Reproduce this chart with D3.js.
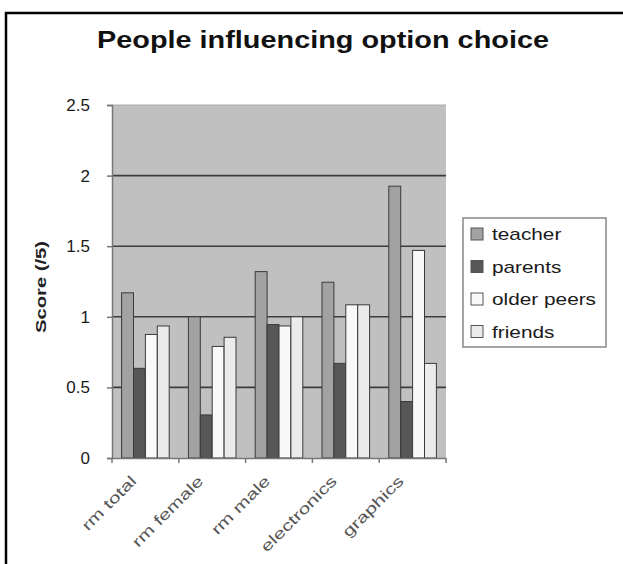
<!DOCTYPE html>
<html>
<head>
<meta charset="utf-8">
<script src="https://cdn.jsdelivr.net/npm/d3@7"></script>
<style>
  body { margin: 0; background: #fff; }
  svg { display: block; font-family: Arial, "Liberation Sans", sans-serif; }
</style>
</head>
<body>
<svg width="623" height="564"></svg>
<script>
// categorie e serie
var categories = ["rm total", "rm female", "rm male", "electronics", "graphics"];
var series = ["teacher", "parents", "older peers", "friends"];
var teacher = [1.17, 1.0, 1.32, 1.245, 1.925];
var parents = [0.635, 0.305, 0.945, 0.67, 0.40];
var olderPeers = [0.875, 0.79, 0.935, 1.085, 1.47];
var friends = [0.935, 0.855, 1.0, 1.085, 0.67];
var yTicks = [0, 0.5, 1, 1.5, 2, 2.5];
var colors = ["#a2a2a2", "#575757", "#f9f9f9", "#ebebeb"];

var svg = d3.select("svg");
var values = [teacher, parents, olderPeers, friends];

// cornice esterna (esce dalla finestra a destra e in basso)
svg.append("rect")
  .attr("x", 6).attr("y", 13)
  .attr("width", 700).attr("height", 700)
  .attr("fill", "none").attr("stroke", "#000").attr("stroke-width", 2.5);

// titolo
svg.append("text")
  .attr("x", 97).attr("y", 48)
  .attr("font-size", 23).attr("font-weight", "bold")
  .attr("fill", "#111")
  .attr("textLength", 452).attr("lengthAdjust", "spacingAndGlyphs")
  .text("People influencing option choice");

// margini area grafico (niente "top": e' riservato da window)
var pLeft = 112, pRight = 446, pTop = 105, pBottom = 458;

var y = d3.scaleLinear().domain([0, 2.5]).range([pBottom, pTop]);
var x0 = d3.scaleBand().domain(categories).range([pLeft, pRight]).padding(0);
var x1 = d3.scaleBand().domain(series)
  .range([9.6, x0.bandwidth() - 9.6]).padding(0);

// sfondo area del grafico
svg.append("rect")
  .attr("x", pLeft).attr("y", pTop)
  .attr("width", pRight - pLeft).attr("height", pBottom - pTop)
  .attr("fill", "#c0c0c0");

// griglia
svg.append("g").selectAll("line")
  .data(yTicks.filter(function (d) { return d > 0 && d < 2.5; }))
  .enter().append("line")
  .attr("x1", pLeft).attr("x2", pRight)
  .attr("y1", function (d) { return y(d); })
  .attr("y2", function (d) { return y(d); })
  .attr("stroke", "#3c3c3c").attr("stroke-width", 1.6);

svg.append("line")
  .attr("x1", pLeft).attr("x2", pRight).attr("y1", pTop).attr("y2", pTop)
  .attr("stroke", "#aaa").attr("stroke-width", 1);

// barre
var groups = svg.append("g").selectAll("g")
  .data(categories)
  .enter().append("g")
  .attr("transform", function (d) { return "translate(" + x0(d) + ",0)"; });

groups.selectAll("rect")
  .data(function (d, i) {
    return series.map(function (s, j) { return { s: s, v: values[j][i], j: j }; });
  })
  .enter().append("rect")
  .attr("x", function (d) { return x1(d.s); })
  .attr("y", function (d) { return y(d.v); })
  .attr("width", x1.bandwidth())
  .attr("height", function (d) { return pBottom - y(d.v); })
  .attr("fill", function (d) { return colors[d.j]; })
  .attr("stroke", "#3a3a3a").attr("stroke-width", 1);

// asse y
var yAxis = svg.append("g")
  .attr("transform", "translate(" + pLeft + ",0)")
  .call(d3.axisLeft(y).tickValues(yTicks).tickSize(5).tickPadding(17)
    .tickFormat(function (d) { return d; }));
yAxis.select(".domain").attr("stroke", "#777").attr("stroke-width", 1.5);
yAxis.selectAll(".tick line").attr("stroke", "#777").attr("stroke-width", 1.5);
yAxis.selectAll("text").attr("font-size", 17).attr("fill", "#1a1a1a")
  .attr("font-family", "Arial, 'Liberation Sans', sans-serif");

// asse x
var xAxis = svg.append("g")
  .attr("transform", "translate(0," + pBottom + ")")
  .call(d3.axisBottom(x0).tickSize(0).tickFormat(""));
xAxis.select(".domain").attr("stroke", "#777").attr("stroke-width", 1.5);
svg.append("g").selectAll("line")
  .data(categories.concat(["_end"]))
  .enter().append("line")
  .attr("x1", function (d) { return d === "_end" ? pRight : x0(d); })
  .attr("x2", function (d) { return d === "_end" ? pRight : x0(d); })
  .attr("y1", pBottom).attr("y2", pBottom + 5)
  .attr("stroke", "#777").attr("stroke-width", 1.5);

// etichette categorie, inclinate e un po' allargate come nell'originale
svg.append("g").selectAll("text")
  .data(categories)
  .enter().append("text")
  .attr("transform", function (d) {
    return "translate(" + (x0(d) + x0.bandwidth() / 2 - 8) + "," + (pBottom + 24) + ") rotate(-45) scale(1.4,1)";
  })
  .attr("text-anchor", "end")
  .attr("font-size", 15).attr("fill", "#555")
  .text(function (d) { return d; });

// titolo asse y
svg.append("text")
  .attr("transform", "translate(46,287) rotate(-90) scale(1.35,1)")
  .attr("text-anchor", "middle")
  .attr("font-size", 15).attr("font-weight", "bold").attr("fill", "#222")
  .text("Score (/5)");

// legenda
var legend = svg.append("g").attr("transform", "translate(463,218)");
legend.append("rect")
  .attr("width", 143).attr("height", 129)
  .attr("fill", "#fff").attr("stroke", "#888").attr("stroke-width", 1.5);
var item = legend.selectAll("g.item")
  .data(series)
  .enter().append("g")
  .attr("class", "item")
  .attr("transform", function (d, i) { return "translate(8," + (16 + i * 32.5) + ")"; });
item.append("rect")
  .attr("x", 0).attr("y", -6)
  .attr("width", 12).attr("height", 12)
  .attr("fill", function (d, i) { return colors[i]; })
  .attr("stroke", "#555").attr("stroke-width", 1);
item.append("text")
  .attr("transform", "translate(21,6) scale(1.3,1)")
  .attr("font-size", 16).attr("fill", "#1a1a1a")
  .text(function (d) { return d; });
</script>
</body>
</html>
